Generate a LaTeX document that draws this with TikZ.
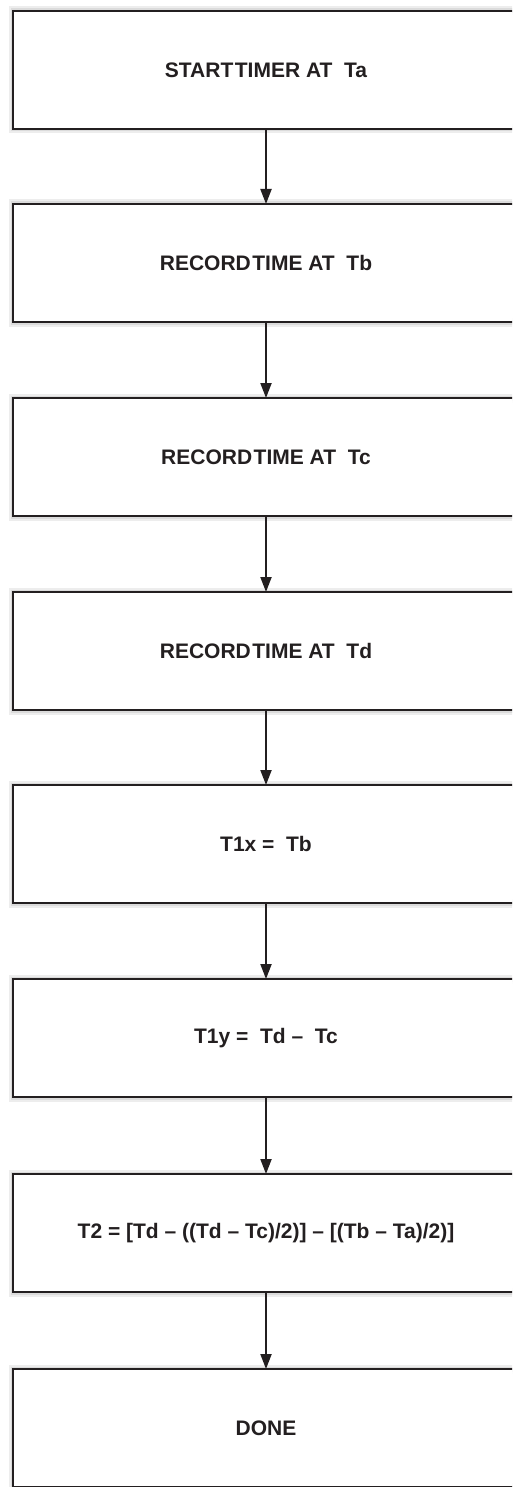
\documentclass[tikz,border=0pt]{standalone}
\usepackage{fontspec}
\setmainfont{Liberation Sans}
\usetikzlibrary{arrows.meta}
\definecolor{linec}{HTML}{231F20}
\newcommand\tightsp{{\spaceskip=1.5pt\relax\space}}
\begin{document}
\begin{tikzpicture}[x=1pt,y=-1pt,
  stepbox/.style={draw=linec, line width=2pt, minimum width=506pt, minimum height=118pt,
    inner sep=0pt, outer sep=0pt, fill=white, anchor=north west, align=center,
    text=linec, font=\bfseries\fontsize{21}{25}\selectfont,
    preaction={draw=black!7, line width=9pt},
    preaction={draw=black!14, line width=5pt}},
  flow/.style={draw=linec, line width=2pt, -{Triangle[width=11pt,length=15pt]}}]
\useasboundingbox (0,0) rectangle (512,1487);
\clip (0,0) rectangle (512,1487);
\fill[white] (0,0) rectangle (512,1487);
\node[stepbox] (b1) at (13,11)   {START\tightsp TIMER AT~~Ta};
\node[stepbox] (b2) at (13,204)  {RECORD\tightsp TIME AT~~Tb};
\node[stepbox] (b3) at (13,398)  {RECORD\tightsp TIME AT~~Tc};
\node[stepbox] (b4) at (13,592)  {RECORD\tightsp TIME AT~~Td};
\node[stepbox] (b5) at (13,785)  {T1x =~~Tb};
\node[stepbox] (b6) at (13,979)  {T1y =~~Td –~~Tc};
\node[stepbox] (b7) at (13,1174) {T2 = [Td – ((Td – Tc)/2)] – [(Tb – Ta)/2)]};
\node[stepbox] (b8) at (13,1369) {DONE};
\draw[flow] (b1.south) -- (b2.north);
\draw[flow] (b2.south) -- (b3.north);
\draw[flow] (b3.south) -- (b4.north);
\draw[flow] (b4.south) -- (b5.north);
\draw[flow] (b5.south) -- (b6.north);
\draw[flow] (b6.south) -- (b7.north);
\draw[flow] (b7.south) -- (b8.north);
\end{tikzpicture}
\end{document}
